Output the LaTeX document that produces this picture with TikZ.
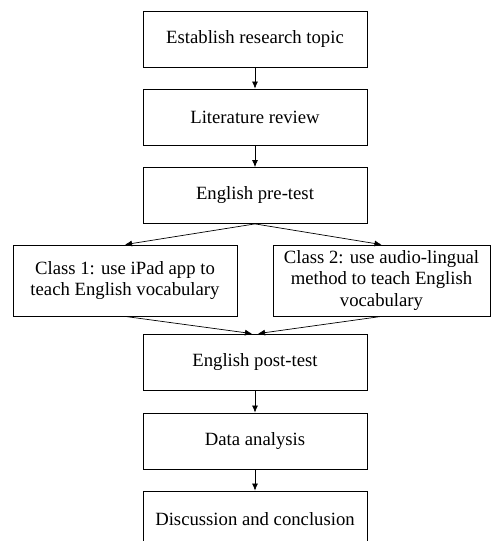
\documentclass[tikz,border=0pt]{standalone}
\usepackage{fontspec}
\setmainfont{Liberation Serif}
\usetikzlibrary{arrows.meta}
\begin{document}
\begin{tikzpicture}[x=1pt,y=-1pt,
    stepbox/.style={draw, line width=0.8pt, minimum width=224pt, minimum height=56pt,
        align=center, inner sep=0pt, font=\fontsize{18.7}{21.5}\selectfont},
    classbox/.style={stepbox, minimum height=71pt},
    flow/.style={line width=0.7pt, -{Latex[length=7pt,width=6pt]}}]
    % page size and cut at the bottom
    \useasboundingbox (0,0) rectangle (491,541);
    \clip (0,0) rectangle (491,541);

    % Draw the steps as boxes
    \node[stepbox] (topic) at (255,39) {Establish research topic};
    \node[stepbox] (review) at (255,117) {Literature review};
    \node[stepbox] (pre) at (255,195.5) {English pre-test};
    \node[classbox] (classa) at (125,280.5) {Class 1: use iPad app to\\teach English vocabulary};
    \node[classbox, minimum width=217pt] (classb) at (381.5,280.5) {Class 2: use audio-lingual\\method to teach English\\vocabulary};
    \node[stepbox] (post) at (255,362) {English post-test};
    \node[stepbox] (data) at (255,441) {Data analysis};
    \node[stepbox] (disc) at (255,519) {Discussion and conclusion};

    % Draw arrows between the steps
    \draw[flow] (topic) -- (review);
    \draw[flow] (review) -- (pre);
    \draw[flow] (pre.south) -- (classa.north);
    \draw[flow] (pre.south) -- (classb.north);
    \draw[flow] (classa.south) -- ([xshift=-3pt]post.north);
    \draw[flow] (classb.south) -- ([xshift=3pt]post.north);
    \draw[flow] (post) -- (data);
    \draw[flow] (data) -- (disc);
\end{tikzpicture}
\end{document}
